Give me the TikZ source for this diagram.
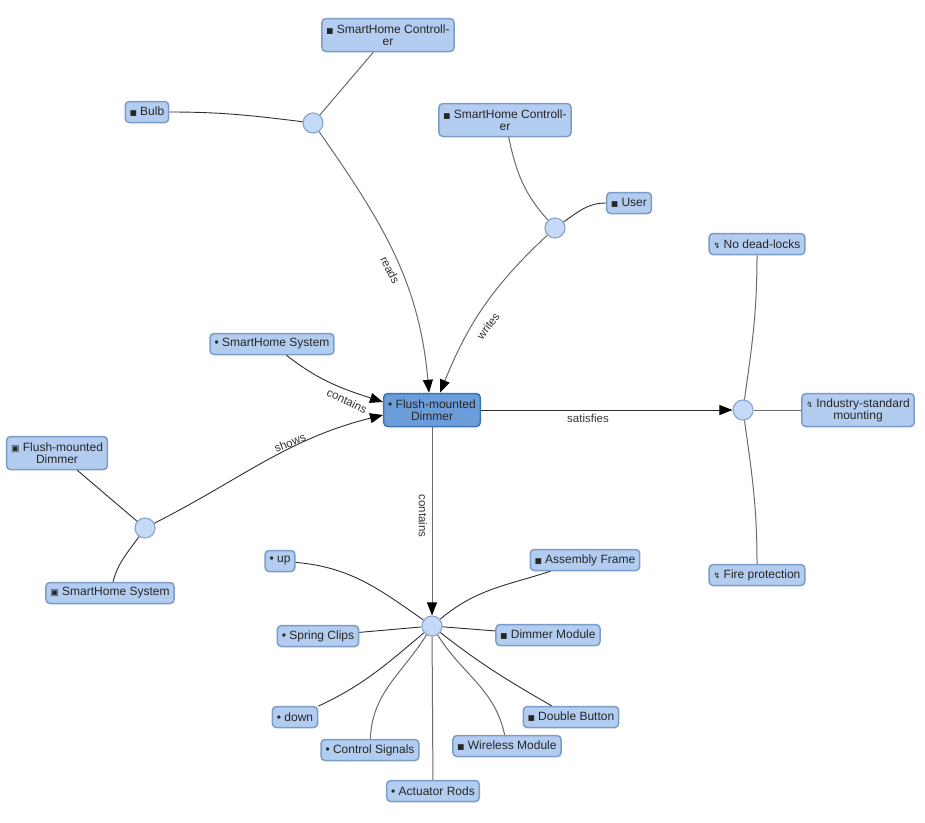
\documentclass[tikz,border=0pt]{standalone}
\usepackage{fontspec}
\setmainfont{Liberation Sans}
\newfontfamily\symf{DejaVu Sans}
\usetikzlibrary{arrows.meta}
\definecolor{nodefill}{HTML}{B3CDF0}
\definecolor{nodeline}{HTML}{7C9CC8}
\definecolor{mainfill}{HTML}{6C9DDB}
\definecolor{mainline}{HTML}{3F72B5}
\definecolor{hubfill}{HTML}{C4DAF6}
\definecolor{hubline}{HTML}{8AA8D2}
\definecolor{edgec}{HTML}{2E2E2E}
\definecolor{edgeg}{HTML}{6A6A6A}
\newcommand{\isq}{{\symf\fontsize{7.5}{8}\selectfont■}}
\newcommand{\ibul}{•}
\newcommand{\ibox}{{\symf\fontsize{9}{8}\selectfont▣}}
\newcommand{\ibolt}{{\symf\fontsize{8}{8}\selectfont↯}}
\tikzset{
  box/.style={draw=nodeline, fill=nodefill, line width=1.5pt, rounded corners=4pt,
    inner xsep=4.5pt, inner ysep=0pt, minimum height=21pt,
    font=\fontsize{12}{12}\selectfont, text=black!85, align=center},
  twoline/.style={box, minimum height=33pt},
  mainbox/.style={twoline, draw=mainline, fill=mainfill},
  hub/.style={circle, draw=hubline, fill=hubfill, line width=1.2pt, minimum size=20pt, inner sep=0pt},
  edge/.style={draw=edgec, line width=0.9pt},
  gedge/.style={draw=edgeg, line width=1pt},
  arr/.style={-{Triangle[length=13pt,width=10pt,color=black]}},
  lab/.style={font=\fontsize{11.5}{12}\selectfont, text=black!80, inner sep=1pt}
}
\begin{document}
\begin{tikzpicture}[x=1pt,y=-1pt]
\useasboundingbox (0,0) rectangle (925,822);
% nodes
\node[twoline] (shc1) at (388,35) {\isq\ SmartHome Controll-\\er};
\node[box] (bulb) at (147,112) {\isq\ Bulb};
\node[hub] (hub1) at (313,123) {};
\node[twoline] (shc2) at (505,120) {\isq\ SmartHome Controll-\\er};
\node[box] (user) at (629,203) {\isq\ User};
\node[hub] (hub2) at (555,228) {};
\node[mainbox] (main) at (432,410) {\ibul\ Flush-mounted\\Dimmer};
\node[box] (shs) at (272,344) {\ibul\ SmartHome System};
\node[twoline] (fmd2) at (57,453) {\ibox\ Flush-mounted\\Dimmer};
\node[hub] (hub3) at (145,528) {};
\node[box] (shs2) at (110,593) {\ibox\ SmartHome System};
\node[hub] (hub4) at (743,410) {};
\node[box] (ndl) at (757,244) {\ibolt\ No dead-locks};
\node[twoline] (ism) at (858,410) {\ibolt\ Industry-standard\\mounting};
\node[box] (fire) at (757,575) {\ibolt\ Fire protection};
\node[hub] (hub5) at (432,626) {};
\node[box] (up) at (280,561) {\ibul\ up};
\node[box] (af) at (585,560) {\isq\ Assembly Frame};
\node[box] (sc) at (318,636) {\ibul\ Spring Clips};
\node[box] (dm) at (548,635) {\isq\ Dimmer Module};
\node[box] (down) at (295,717) {\ibul\ down};
\node[box] (db) at (571,717) {\isq\ Double Button};
\node[box] (cs) at (370,750) {\ibul\ Control Signals};
\node[box] (wm) at (507,746) {\isq\ Wireless Module};
\node[box] (ar) at (433,791) {\ibul\ Actuator Rods};
% edge labels
\node[lab, rotate=-63] (lreads) at (390,270) {reads};
\node[lab, rotate=53] (lwrites) at (488,326) {writes};
\node[lab, rotate=-26] (lcont1) at (347,401) {contains};
\node[lab, rotate=22] (lshows) at (290,443) {shows};
\node[lab, rotate=-90] (lcont2) at (423,516) {contains};
\node[lab] (lsat) at (588,418) {satisfies};
% edges
\path[edge] (bulb) to[out=0,in=173] (hub1);
\path[gedge] (shc1) -- (hub1);
\path[gedge,arr] (hub1) to[out=-55,in=95] ([xshift=-3]main.north);
\path[gedge] (shc2) to[out=-78,in=132] (hub2);
\path[edge] (user) to[out=180,in=35] (hub2);
\path[gedge,arr] (hub2) to[out=-137,in=68] ([xshift=8]main.north);
\path[edge,arr] (shs) to[out=-38,in=162] ([yshift=8]main.west);
\path[edge,arr] (hub3) to[out=27,in=194] ([yshift=-5]main.west);
\path[edge] (fmd2) -- (hub3);
\path[edge] (shs2) to[out=75,in=-125] (hub3);
\path[edge,arr] (main) -- (hub4);
\path[gedge] (hub4) to[out=82,in=-90] (ndl);
\path[gedge] (hub4) -- (ism);
\path[gedge] (hub4) to[out=-82,in=90] (fire);
\path[gedge,arr] (main) -- (hub5);
\path[edge] (up) to[out=-5,in=145] (hub5);
\path[edge] (af) to[out=198,in=40] (hub5);
\path[edge] (sc) -- (hub5);
\path[edge] (dm) -- (hub5);
\path[edge] (down) to[out=25,in=-140] (hub5);
\path[gedge] (cs) to[out=88,in=-122] (hub5);
\path[gedge] (ar) -- (hub5);
\path[gedge] (wm) to[out=102,in=-58] (hub5);
\path[edge] (db) to[out=150,in=-38] (hub5);
\end{tikzpicture}
\end{document}
